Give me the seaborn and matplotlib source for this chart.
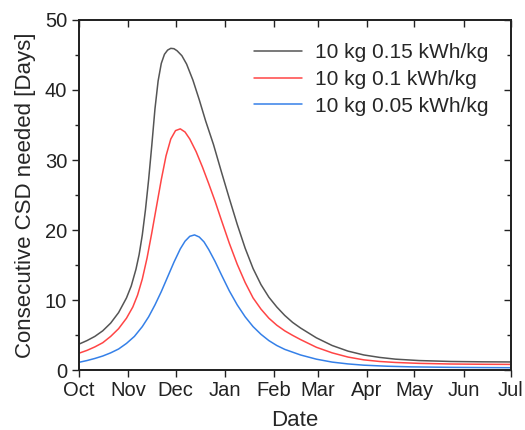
import pandas as pd
import seaborn as sns
import matplotlib
matplotlib.use('Agg')
import matplotlib.pyplot as plt
from matplotlib.ticker import MultipleLocator

# days counted from 1 Oct
black_days = [0, 5, 10, 15, 20, 25, 30, 33, 36, 38, 40, 42, 44, 46, 48, 50, 52, 54, 56, 58,
              60, 62, 65, 68, 72, 76, 80, 85, 90, 95, 100, 105, 110, 115, 120, 125, 130,
              135, 140, 145, 150, 160, 170, 180, 190, 200, 215, 235, 255, 273]
black_vals = [3.7, 4.2, 4.8, 5.6, 6.7, 8.2, 10.3, 12.0, 14.4, 16.5, 19.3, 22.9, 27.2, 32.1,
              37.3, 41.3, 43.8, 45.1, 45.7, 45.95, 45.9, 45.6, 44.9, 43.7, 41.4, 38.6, 35.6,
              32.2, 28.3, 24.5, 20.8, 17.4, 14.5, 12.2, 10.4, 9.0, 7.8, 6.8, 6.0, 5.3, 4.6,
              3.5, 2.7, 2.15, 1.8, 1.55, 1.35, 1.22, 1.17, 1.15]

red_days = [0, 5, 10, 15, 20, 25, 30, 34, 37, 40, 43, 46, 49, 52, 55, 58, 61, 64, 67, 70,
            74, 78, 82, 86, 90, 95, 100, 105, 110, 115, 120, 125, 130, 135, 140, 150, 160,
            170, 180, 190, 200, 215, 235, 255, 273]
red_vals = [2.4, 2.8, 3.3, 3.9, 4.8, 5.9, 7.4, 9.0, 10.7, 13.0, 16.0, 19.6, 23.4, 27.2, 30.6,
            33.0, 34.2, 34.45, 34.0, 33.0, 31.2, 29.0, 26.6, 24.1, 21.4, 18.1, 15.1, 12.5,
            10.3, 8.7, 7.4, 6.4, 5.6, 4.95, 4.35, 3.25, 2.45, 1.85, 1.45, 1.22, 1.08, 0.95,
            0.86, 0.82, 0.8]

blue_days = [0, 5, 10, 15, 20, 25, 30, 35, 40, 44, 48, 52, 56, 60, 64, 67, 70, 73, 76, 79,
             82, 86, 90, 95, 100, 105, 110, 115, 120, 125, 130, 140, 150, 160, 170, 180,
             195, 210, 235, 255, 273]
blue_vals = [1.1, 1.35, 1.65, 2.0, 2.45, 3.0, 3.8, 4.8, 6.2, 7.6, 9.3, 11.2, 13.3, 15.4, 17.3,
             18.4, 19.1, 19.3, 19.0, 18.3, 17.2, 15.5, 13.6, 11.3, 9.3, 7.6, 6.2, 5.1, 4.2,
             3.5, 2.95, 2.15, 1.55, 1.13, 0.87, 0.69, 0.54, 0.45, 0.38, 0.35, 0.33]

labels = ['10 kg 0.15 kWh/kg', '10 kg 0.1 kWh/kg', '10 kg 0.05 kWh/kg']
colors = ['#555555', '#ff4545', '#3580e8']

month_names = ['Oct', 'Nov', 'Dec', 'Jan', 'Feb', 'Mar', 'Apr', 'May', 'Jun', 'Jul']
month_starts = pd.date_range('2021-10-01', '2022-07-01', freq='MS')
month_days = [(d - month_starts[0]).days for d in month_starts]

df = pd.concat([
    pd.DataFrame({'day': black_days, 'val': black_vals, 'series': labels[0]}),
    pd.DataFrame({'day': red_days, 'val': red_vals, 'series': labels[1]}),
    pd.DataFrame({'day': blue_days, 'val': blue_vals, 'series': labels[2]}),
])

sns.set_style('ticks')
plt.rcParams['font.family'] = ['Liberation Sans', 'DejaVu Sans']

fig = plt.figure(figsize=(5.25, 4.3), dpi=100)
ax = fig.add_axes([0.1505, 0.1395, 0.8228, 0.814])

sns.lineplot(data=df, x='day', y='val', hue='series', hue_order=labels,
             palette=colors, linewidth=1.1, ax=ax, sort=False)

ax.set_xlim(0, 273)
ax.set_ylim(0, 50)
ax.set_xticks(month_days)
ax.set_xticklabels(month_names)
ax.yaxis.set_major_locator(MultipleLocator(10))
ax.yaxis.set_minor_locator(MultipleLocator(5))
ax.tick_params(which='major', direction='out', length=5, width=1, labelsize=14.5, colors='#222222')
ax.tick_params(which='minor', direction='out', length=3, width=1, colors='#222222')
ax.tick_params(axis='x', pad=3)
for s in ax.spines.values():
    s.set_linewidth(1.1)
    s.set_color('#222222')

# mirrored ticks pointing inwards on top and right
axt = ax.twiny()
axt.set_xlim(ax.get_xlim())
axt.set_xticks(month_days)
axt.tick_params(direction='in', length=5, width=1, labeltop=False, colors='#222222')
axr = ax.twinx()
axr.set_ylim(ax.get_ylim())
axr.yaxis.set_major_locator(MultipleLocator(10))
axr.yaxis.set_minor_locator(MultipleLocator(5))
axr.tick_params(which='major', direction='in', length=5, width=1, labelright=False, colors='#222222')
axr.tick_params(which='minor', direction='in', length=3, width=1, colors='#222222')
for a in (axt, axr):
    for s in a.spines.values():
        s.set_linewidth(1.1)
        s.set_color('#222222')

ax.set_xlabel('Date', fontsize=16, labelpad=7)
ax.set_ylabel('Consecutive CSD needed [Days]', fontsize=16, labelpad=6)

leg = ax.legend(loc='upper right', frameon=False, fontsize=15, handlelength=2.3,
                handletextpad=0.6, labelspacing=0.38, borderaxespad=0.7)
leg.set_title(None)

fig.savefig('out.png', dpi=100)
